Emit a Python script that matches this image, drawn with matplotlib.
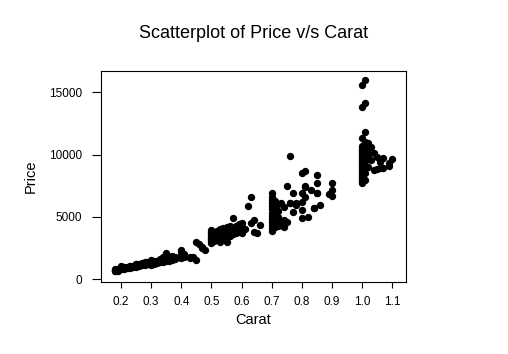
import matplotlib
matplotlib.use('Agg')
import matplotlib.pyplot as plt

# ---------------- data ----------------
carat_small = [0.18, 0.18, 0.18, 0.18, 0.19, 0.19, 0.19, 0.20, 0.20, 0.20, 0.20, 0.20,
               0.21, 0.21, 0.21, 0.22, 0.22, 0.23, 0.23, 0.23, 0.23, 0.24, 0.24,
               0.25, 0.25, 0.25, 0.25, 0.25, 0.26, 0.26, 0.26, 0.27, 0.27, 0.27,
               0.28, 0.28, 0.28, 0.29, 0.29, 0.29, 0.30, 0.30, 0.30, 0.30, 0.30, 0.30,
               0.31, 0.31, 0.31, 0.31, 0.32, 0.32, 0.32, 0.33, 0.33, 0.33, 0.33,
               0.34, 0.34, 0.34, 0.34, 0.35, 0.35, 0.35, 0.35, 0.35, 0.35,
               0.36, 0.36, 0.36, 0.37, 0.37, 0.37, 0.38, 0.38]
price_small = [638, 700, 750, 823, 700, 760, 800, 800, 870, 920, 990, 1050,
               850, 900, 980, 900, 960, 930, 1000, 1060, 1100, 1000, 1080,
               1000, 1060, 1130, 1200, 1250, 1100, 1180, 1260, 1150, 1240, 1320,
               1160, 1250, 1350, 1200, 1290, 1370, 1150, 1220, 1300, 1380, 1450, 1520,
               1250, 1330, 1420, 1500, 1300, 1400, 1480, 1350, 1430, 1550, 1650,
               1400, 1500, 1600, 1750, 1450, 1560, 1700, 1850, 2000, 2080,
               1500, 1650, 1800, 1550, 1700, 1850, 1600, 1750]

carat_mid = [0.40, 0.40, 0.40, 0.40, 0.41, 0.41, 0.43, 0.43, 0.44, 0.45, 0.45, 0.46,
             0.47, 0.47, 0.48,
             0.50, 0.50, 0.50, 0.50, 0.50, 0.50, 0.50, 0.50,
             0.51, 0.51, 0.51, 0.51, 0.52, 0.52, 0.52, 0.52,
             0.53, 0.53, 0.53, 0.53, 0.53, 0.54, 0.54, 0.54, 0.54,
             0.55, 0.55, 0.55, 0.55, 0.55, 0.56, 0.56, 0.56, 0.56,
             0.57, 0.57, 0.57, 0.57, 0.58, 0.58, 0.58, 0.59, 0.59, 0.59,
             0.60, 0.60, 0.60, 0.60, 0.61, 0.62, 0.63, 0.63, 0.64, 0.64, 0.65, 0.66]
price_mid = [1700, 1950, 2150, 2350, 1800, 2000, 1720, 1810, 1810, 1550, 3015, 2800,
             2610, 2490, 2350,
             2900, 3050, 3200, 3350, 3500, 3650, 3800, 3950,
             3100, 3300, 3500, 3800, 3200, 3400, 3600, 3900,
             3000, 3300, 3500, 3700, 4000, 3300, 3500, 3800, 4100,
             3015, 3400, 3700, 3900, 4200, 3500, 3800, 4000, 4300,
             3600, 3900, 4100, 4890, 3700, 4000, 4300, 3800, 4100, 4400,
             3700, 3900, 4200, 4500, 4000, 5900, 6620, 4500, 4750, 3820, 3700, 4350]

carat_large = [0.70, 0.70, 0.70, 0.70, 0.70, 0.70, 0.70, 0.70, 0.70, 0.70, 0.70, 0.70, 0.70,
               0.71, 0.71, 0.71, 0.71, 0.71, 0.71, 0.71, 0.71,
               0.72, 0.72, 0.72, 0.72, 0.72, 0.73, 0.73, 0.73,
               0.74, 0.74, 0.74, 0.74, 0.75, 0.75, 0.76, 0.76, 0.76,
               0.77, 0.77, 0.78, 0.78, 0.80, 0.80, 0.80, 0.80, 0.80,
               0.81, 0.81, 0.81, 0.81, 0.82, 0.83, 0.84, 0.84,
               0.85, 0.85, 0.85, 0.85, 0.86, 0.89, 0.90, 0.90, 0.90]
price_large = [3900, 4090, 4350, 4600, 4850, 5100, 5350, 5600, 5850, 6100, 6350, 6600, 6900,
               4200, 4500, 4800, 5100, 5400, 5700, 6000, 6300,
               4300, 4700, 5000, 5500, 6000, 4350, 4600, 6090,
               4200, 4490, 4750, 5820, 4620, 7480, 9890, 6140, 6090,
               6950, 5420, 6140, 5960, 6220, 5560, 4890, 6900, 8550,
               8690, 7480, 6620, 7430, 5020, 7160, 5690, 5740,
               8360, 7750, 6950, 6900, 5960, 6820, 7750, 6680, 7200]

carat_one = [1.00] * 24 + [1.01] * 10 + [1.02, 1.02, 1.02, 1.02, 1.03, 1.03, 1.04, 1.04,
                                          1.05, 1.05, 1.06, 1.06, 1.07, 1.07, 1.09, 1.09, 1.10]
price_one = [7720, 7850, 8000, 8150, 8300, 8450, 8600, 8750, 8900, 9050, 9200, 9350,
             9500, 9650, 9800, 9950, 10100, 10250, 10400, 10550, 10680, 11300, 13840, 15580,
             8000, 8500, 9000, 9500, 10000, 10500, 11000, 11840, 14110, 15980,
             9030, 9830, 10130, 10950, 9570, 10590, 10100, 8760,
             8820, 9830, 9430, 8900, 8950, 9700, 9090, 9300, 9650]

carat = carat_small + carat_mid + carat_large + carat_one
price = price_small + price_mid + price_large + price_one

x_ticks = [0.2, 0.3, 0.4, 0.5, 0.6, 0.7, 0.8, 0.9, 1.0, 1.1]
x_tick_labels = ["0.2", "0.3", "0.4", "0.5", "0.6", "0.7", "0.8", "0.9", "1.0", "1.1"]
y_ticks = [0, 5000, 10000, 15000]
y_tick_labels = ["0", "5000", "10000", "15000"]

# ---------------- plotting ----------------
plt.rcParams['font.family'] = ['Liberation Sans', 'DejaVu Sans']

W, H = 508, 354
fig = plt.figure(figsize=(W / 100, H / 100), dpi=100)
ax = fig.add_axes([101 / W, 1 - 282 / H, 305 / W, 211 / H])

ax.scatter(carat, price, s=28, c='black', marker='o', linewidths=0)

ax.set_xlim(0.1336, 1.1455)
ax.set_ylim(-216, 16704)
ax.set_xticks(x_ticks)
ax.set_xticklabels(x_tick_labels)
ax.set_yticks(y_ticks)
ax.set_yticklabels(y_tick_labels)

for sp in ax.spines.values():
    sp.set_linewidth(0.8)
    sp.set_color('black')

ax.tick_params(axis='x', direction='out', length=4.3, width=0.8, pad=6, labelsize=8.5)
ax.tick_params(axis='y', direction='out', length=6.5, width=0.8, pad=7, labelsize=8.5)

ax.set_xlabel('Carat', fontsize=10.5)
ax.set_ylabel('Price', fontsize=10.5)
ax.xaxis.set_label_coords(0.5, -0.149)
ax.yaxis.set_label_coords(-0.208, 0.5)

fig.text(0.5, 1 - 33 / H, 'Scatterplot of Price v/s Carat', ha='center', va='center',
         fontsize=13)

fig.savefig('out.png', dpi=100)
